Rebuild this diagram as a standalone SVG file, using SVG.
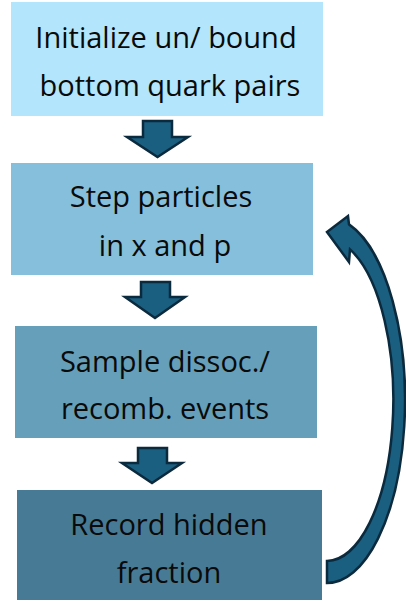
<svg xmlns="http://www.w3.org/2000/svg" width="406" height="602" viewBox="0 0 406 602">
  <style>
    .label { font-family: "Open Sans", "Liberation Sans", sans-serif; font-size: 29px; fill: #0a0a0a; text-anchor: middle; }
    .flow { fill: #1a5e80; stroke: #0b2a3d; stroke-width: 2.5; stroke-linejoin: miter; }
  </style>

  <!-- process steps -->
  <g id="init">
    <rect x="11" y="2" width="312" height="114" fill="#b3e5fc"/>
    <text class="label" x="166" y="48">Initialize un/ bound</text>
    <text class="label" x="170" y="96">bottom quark pairs</text>
  </g>
  <g id="step">
    <rect x="11" y="163" width="302" height="112" fill="#86bfdb"/>
    <text class="label" x="161" y="207">Step particles</text>
    <text class="label" x="165" y="256">in x and p</text>
  </g>
  <g id="sample">
    <rect x="15" y="326" width="302" height="112" fill="#659fb9"/>
    <text class="label" x="165" y="372">Sample dissoc./</text>
    <text class="label" x="165" y="419">recomb. events</text>
  </g>
  <g id="record">
    <rect x="17" y="490" width="305" height="110" fill="#477b95"/>
    <text class="label" x="169" y="535">Record hidden</text>
    <text class="label" x="169" y="583">fraction</text>
  </g>

  <!-- connectors -->
  <g id="connectors">
    <path class="flow" d="M143,121 H172 V137 H188 L157.5,157 L127,137 H143 Z"/>
    <path class="flow" d="M141,282 H170 V297 H185 L155,318 L125,297 H141 Z"/>
    <path class="flow" d="M138,448 H167 V463 H182 L152,483 L122,463 H138 Z"/>
    <!-- loop back from the last step to the stepping stage -->
    <path class="flow" d="M327,583 A78,183 0 0 0 349,224.4 L348,216 L327,232 L349,262 L350,249.4 A67,161 0 0 1 327,561 Z"/>
  </g>
</svg>
